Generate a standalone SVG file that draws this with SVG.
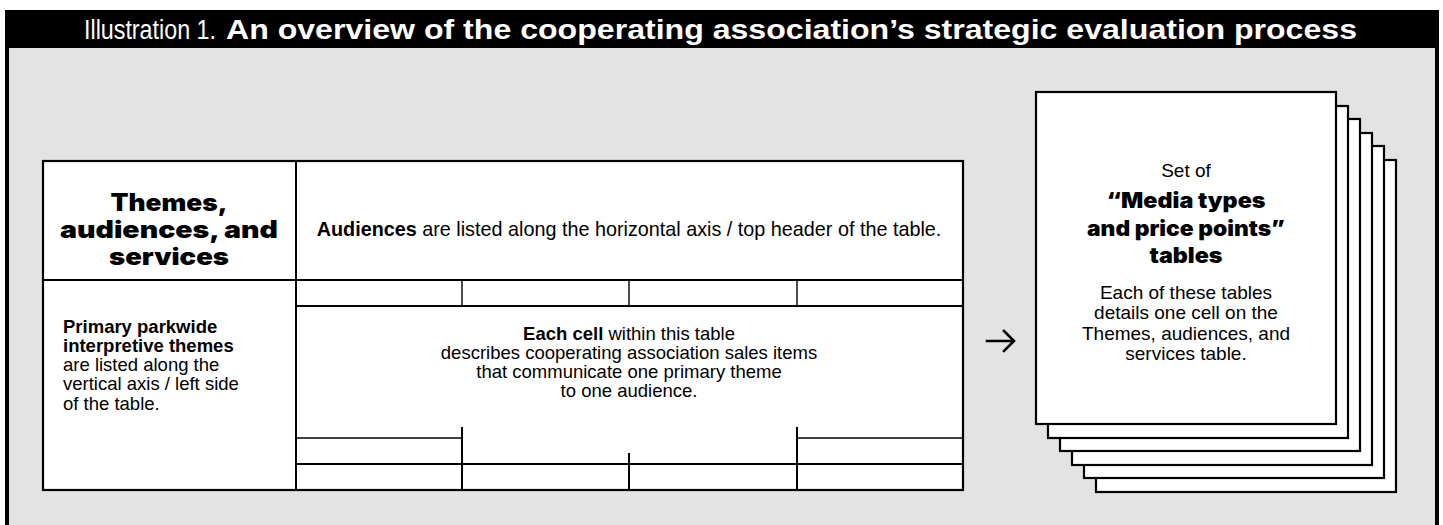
<svg xmlns="http://www.w3.org/2000/svg" width="1443" height="525" viewBox="0 0 1443 525">
  <style>
    .frame { fill: #000; }
    .panel { fill: #e3e3e3; }
    .cell { fill: #fff; stroke: #000; stroke-width: 2.2; }
    .rule { stroke: #000; stroke-width: 2; fill: none; }
    .thin { stroke: #000; stroke-width: 1.4; fill: none; }
    .page { fill: #fff; stroke: #000; stroke-width: 2.2; }
    .arrow { stroke: #000; stroke-width: 2.6; fill: none; stroke-linecap: square; }
    .body { font-family: "Liberation Sans", Arial, sans-serif; font-size: 18.5px; fill: #000; }
    .note { font-size: 19px; }
    .b { font-weight: bold; }
    .heavy { font-family: Inter, "DejaVu Sans", sans-serif; font-weight: 900; fill: #000; }
    .h1 { font-size: 24px; }
    .h2 { font-size: 21px; }
    .title { font-family: "Liberation Sans", Arial, sans-serif; font-size: 27px; fill: #fff; }
    .titleb { font-weight: bold; }
  </style>

  <!-- outer frame with black title band -->
  <g id="frame">
    <rect class="frame" x="5" y="10" width="1434" height="515"/>
    <rect class="panel" x="9" y="48" width="1426" height="477"/>
    <text class="title" x="84" y="39" textLength="132" lengthAdjust="spacingAndGlyphs">Illustration 1.</text>
    <text class="title titleb" x="226" y="39" textLength="1131" lengthAdjust="spacingAndGlyphs">An overview of the cooperating association’s strategic evaluation process</text>
  </g>

  <!-- themes / audiences / services matrix -->
  <g id="matrix">
    <rect class="cell" x="43" y="161" width="920" height="329"/>
    <line class="rule" x1="296" y1="161" x2="296" y2="490"/>
    <line class="rule" x1="43" y1="280" x2="963" y2="280"/>
    <line class="rule" x1="296" y1="306" x2="963" y2="306"/>
    <line class="thin" x1="462" y1="280" x2="462" y2="306"/>
    <line class="thin" x1="629" y1="280" x2="629" y2="306"/>
    <line class="thin" x1="797" y1="280" x2="797" y2="306"/>
    <line class="thin" x1="296" y1="438" x2="462" y2="438"/>
    <line class="thin" x1="797" y1="438" x2="963" y2="438"/>
    <line class="rule" x1="296" y1="464" x2="963" y2="464"/>
    <line class="rule" x1="462" y1="427" x2="462" y2="490"/>
    <line class="rule" x1="629" y1="453" x2="629" y2="490"/>
    <line class="rule" x1="797" y1="427" x2="797" y2="490"/>

    <g id="matrix-title" class="heavy h1" text-anchor="middle">
      <text x="169" y="211" textLength="117" lengthAdjust="spacingAndGlyphs">Themes,</text>
      <text x="169" y="238" textLength="218" lengthAdjust="spacingAndGlyphs">audiences, and</text>
      <text x="169" y="265" textLength="120" lengthAdjust="spacingAndGlyphs">services</text>
    </g>
    <text class="body" x="629" y="236" text-anchor="middle" style="font-size:19.8px"><tspan class="b">Audiences</tspan> are listed along the horizontal axis / top header of the table.</text>
    <g id="themes-note" class="body">
      <text x="63" y="333" class="b">Primary parkwide</text>
      <text x="63" y="352" class="b">interpretive themes</text>
      <text x="63" y="371">are listed along the</text>
      <text x="63" y="390">vertical axis / left side</text>
      <text x="63" y="410">of the table.</text>
    </g>
    <g id="cell-note" class="body" text-anchor="middle">
      <text x="629" y="340"><tspan class="b">Each cell</tspan> within this table</text>
      <text x="629" y="359">describes cooperating association sales items</text>
      <text x="629" y="378">that communicate one primary theme</text>
      <text x="629" y="397">to one audience.</text>
    </g>
  </g>

  <!-- stack of media-type tables, back to front -->
  <g id="media-tables">
    <rect class="page" x="1096" y="160" width="300" height="332"/>
    <rect class="page" x="1084" y="146" width="300" height="332"/>
    <rect class="page" x="1072" y="133" width="300" height="332"/>
    <rect class="page" x="1060" y="119" width="300" height="332"/>
    <rect class="page" x="1048" y="106" width="300" height="332"/>
    <rect class="page" x="1036" y="92" width="300" height="332"/>
    <g text-anchor="middle">
      <text class="body note" x="1186" y="177">Set of</text>
      <text class="heavy h2" x="1186" y="208" textLength="159" lengthAdjust="spacingAndGlyphs">“Media types</text>
      <text class="heavy h2" x="1186" y="236" textLength="198" lengthAdjust="spacingAndGlyphs">and price points”</text>
      <text class="heavy h2" x="1186" y="263" textLength="73" lengthAdjust="spacingAndGlyphs">tables</text>
      <text class="body note" x="1186" y="299">Each of these tables</text>
      <text class="body note" x="1186" y="319">details one cell on the</text>
      <text class="body note" x="1186" y="340">Themes, audiences, and</text>
      <text class="body note" x="1186" y="360">services table.</text>
    </g>
  </g>

  <!-- arrow from the matrix to the table set -->
  <g id="connectors">
    <path class="arrow" d="M987 341 H1013 M1004 331 L1014 341 L1004 351"/>
  </g>
</svg>
